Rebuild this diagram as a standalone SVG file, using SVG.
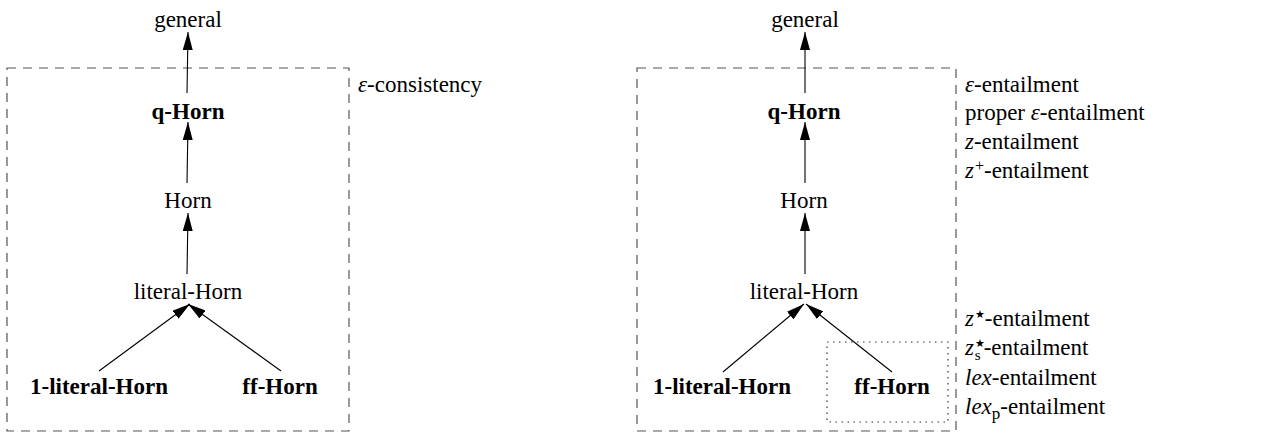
<svg xmlns="http://www.w3.org/2000/svg" width="1274" height="439" viewBox="0 0 1274 439">
<style>
text{font-family:"Liberation Serif","Times New Roman",serif;font-size:23px;fill:#000}
.n{text-anchor:middle}
.b{font-weight:bold}
.i{font-style:italic}
.st{font-family:"DejaVu Sans",sans-serif;font-size:11px}
.box{fill:none;stroke:#555;stroke-width:1.2;stroke-dasharray:9 7}
.dot{fill:none;stroke:#333;stroke-width:1.2;stroke-dasharray:1.5 4.5}
.e{stroke:#000;stroke-width:1.1;fill:none;marker-end:url(#ah)}
</style>
<defs>
<marker id="ah" viewBox="0 0 18 10" refX="18" refY="5" markerWidth="18" markerHeight="10" markerUnits="userSpaceOnUse" orient="auto">
<path d="M0,0 L18,5 L0,10 Z" fill="#000"/>
</marker>
</defs>
<rect width="1274" height="439" fill="#fff"/>
<g id="frames">
<rect class="box" x="7" y="68" width="342" height="363"/>
<rect class="box" x="637" y="68" width="319" height="363"/>
<rect class="dot" x="827" y="342" width="121" height="80"/>
</g>
<g id="connectors">
<line class="e" x1="187" y1="93" x2="188" y2="32"/>
<line class="e" x1="187" y1="183" x2="188" y2="122"/>
<line class="e" x1="187" y1="274" x2="188" y2="213"/>
<line class="e" x1="99" y1="371" x2="190" y2="304"/>
<line class="e" x1="281" y1="371" x2="188" y2="304"/>
<line class="e" x1="805" y1="93" x2="805" y2="32"/>
<line class="e" x1="805" y1="183" x2="805" y2="122"/>
<line class="e" x1="805" y1="274" x2="805" y2="213"/>
<line class="e" x1="723" y1="372" x2="804" y2="304"/>
<line class="e" x1="892" y1="372" x2="806" y2="304"/>
</g>
<g id="L-general"><text class="n" x="188" y="27">general</text></g>
<g id="L-qhorn"><text class="n b" x="188" y="119">q-Horn</text></g>
<g id="L-horn"><text class="n" x="188" y="208">Horn</text></g>
<g id="L-literal"><text class="n" x="188" y="299">literal-Horn</text></g>
<g id="L-1literal"><text class="n b" x="99" y="394">1-literal-Horn</text></g>
<g id="L-ff"><text class="n b" x="280" y="394">ff-Horn</text></g>
<g id="L-label"><text x="358" y="92"><tspan class="i">ε</tspan>-consistency</text></g>
<g id="R-general"><text class="n" x="805" y="27">general</text></g>
<g id="R-qhorn"><text class="n b" x="804" y="119">q-Horn</text></g>
<g id="R-horn"><text class="n" x="804" y="208">Horn</text></g>
<g id="R-literal"><text class="n" x="804" y="299">literal-Horn</text></g>
<g id="R-1literal"><text class="n b" x="722" y="394">1-literal-Horn</text></g>
<g id="R-ff"><text class="n b" x="892" y="394">ff-Horn</text></g>
<g id="R-labels-top">
<text x="965" y="92"><tspan class="i">ε</tspan>-entailment</text>
<text x="965" y="120">proper <tspan class="i">ε</tspan>-entailment</text>
<text x="965" y="149"><tspan class="i">z</tspan>-entailment</text>
<text x="965" y="178"><tspan class="i">z</tspan><tspan dx="1" dy="-7" font-size="16">+</tspan><tspan dy="7">-entailment</tspan></text>
</g>
<g id="R-labels-bottom">
<text x="965" y="326"><tspan class="i">z</tspan><tspan class="st" dx="1" dy="-8">★</tspan><tspan dy="8">-entailment</tspan></text>
<text x="965" y="355"><tspan class="i">z</tspan><tspan class="st" dx="1" dy="-8">★</tspan><tspan dx="-10" dy="13" font-size="15">s</tspan><tspan dx="3" dy="-5">-entailment</tspan></text>
<text x="965" y="385"><tspan class="i">lex</tspan>-entailment</text>
<text x="965" y="414"><tspan class="i">lex</tspan><tspan dy="5" font-size="17">p</tspan><tspan dy="-5">-entailment</tspan></text>
</g>
</svg>
